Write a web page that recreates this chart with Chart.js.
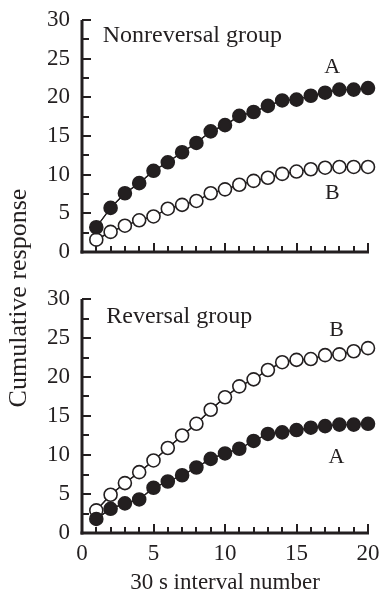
<!DOCTYPE html>
<html>
<head>
<meta charset="utf-8">
<script src="https://cdn.jsdelivr.net/npm/chart.js@4/dist/chart.umd.min.js"></script>
<style>
  body { margin: 0; background: #fff; overflow: hidden; }
  #wrap { position: relative; width: 382px; height: 594px; overflow: hidden; }
  canvas { position: absolute; left: 0; }
  #ytitle {
    position: absolute; left: -132px; top: 283px; width: 300px; height: 30px;
    line-height: 30px; text-align: center; transform: rotate(-90deg);
    font-family: 'Liberation Serif', serif; font-size: 26px; color: #231f20;
  }
</style>
</head>
<body>
<div id="wrap">
  <!-- joining lines under each chart, axes on a layer above it -->
  <canvas id="top_under" width="382" height="270" style="top:0;width:382px;height:270px"></canvas>
  <canvas id="bottom_under" width="382" height="324" style="top:270px;width:382px;height:324px"></canvas>
  <canvas id="top_chart" width="382" height="270" style="top:0;width:382px;height:270px"></canvas>
  <canvas id="bottom_chart" width="382" height="324" style="top:270px;width:382px;height:324px"></canvas>
  <canvas id="top_over" width="382" height="270" style="top:0;width:382px;height:270px"></canvas>
  <canvas id="bottom_over" width="382" height="324" style="top:270px;width:382px;height:324px"></canvas>
  <div id="ytitle">Cumulative response</div>
</div>
<script>
// data
const intervals = [1, 2, 3, 4, 5, 6, 7, 8, 9, 10, 11, 12, 13, 14, 15, 16, 17, 18, 19, 20];
const nonrevA = [3.2, 5.7, 7.6, 8.9, 10.5, 11.6, 12.9, 14.1, 15.6, 16.4, 17.6, 18.1, 18.9, 19.6, 19.7, 20.2, 20.6, 21.0, 21.0, 21.2];
const nonrevB = [1.6, 2.6, 3.4, 4.1, 4.6, 5.6, 6.1, 6.6, 7.6, 8.1, 8.7, 9.2, 9.6, 10.1, 10.4, 10.7, 10.9, 11.0, 11.0, 11.0];
const revA = [1.8, 3.1, 3.8, 4.3, 5.8, 6.6, 7.4, 8.4, 9.5, 10.2, 10.8, 11.8, 12.7, 12.9, 13.2, 13.5, 13.7, 13.9, 13.9, 14.0];
const revB = [2.9, 4.9, 6.4, 7.8, 9.3, 10.9, 12.5, 14.0, 15.8, 17.4, 18.8, 19.7, 20.9, 21.9, 22.2, 22.3, 22.8, 22.9, 23.3, 23.7];
const yTicks = [0, 5, 10, 15, 20, 25, 30];
const xTicks = [0, 5, 10, 15, 20];

const ink = '#231f20';
const serif = 'Liberation Serif';

function series(vals, filled) {
    return {
        data: intervals.map((x, i) => ({ x: x, y: vals[i] })),
        showLine: true,
        borderColor: ink,
        borderWidth: 1.2,
        tension: 0,
        pointRadius: 6.5,
        pointBorderWidth: 1.6,
        pointBorderColor: ink,
        pointBackgroundColor: filled ? ink : '#fff',
        clip: false
    };
}

// joining lines, from the library's point positions
function drawJoins(chart, c) {
    c.clearRect(0, 0, c.canvas.width, c.canvas.height);
    c.save();
    c.strokeStyle = ink;
    c.lineWidth = 1.2;
    chart.data.datasets.forEach((ds, i) => {
        const pts = chart.getDatasetMeta(i).data;
        c.beginPath();
        pts.forEach((p, j) => { if (j === 0) c.moveTo(p.x, p.y); else c.lineTo(p.x, p.y); });
        c.stroke();
    });
    c.restore();
}

// axis lines with ticks pointing into the plot
function drawAxes(chart, c) {
    const xs = chart.scales.x, ys = chart.scales.y;
    const x0 = Math.round(xs.getPixelForValue(0)), x1 = Math.round(xs.getPixelForValue(20));
    const y0 = Math.round(ys.getPixelForValue(0)), y1 = Math.round(ys.getPixelForValue(30));
    c.clearRect(0, 0, c.canvas.width, c.canvas.height);
    c.save();
    c.fillStyle = ink;
    c.fillRect(x0 - 1.5, y1, 3, y0 - y1 + 1.5);
    c.fillRect(x0 - 1.5, y0 - 1.5, x1 - x0 + 2.5, 3);
    for (let k = 1; k <= 12; k++) {
        const py = Math.round(ys.getPixelForValue(k * 2.5));
        c.fillRect(x0, py - 1, k % 2 === 0 ? 9 : 7, 2);
    }
    for (let k = 1; k <= 20; k++) {
        const px = Math.round(xs.getPixelForValue(k));
        const h = k % 5 === 0 ? 9 : 6;
        c.fillRect(px - 1, y0 - h, 2, h);
    }
    c.restore();
}

const overlay = {
    id: 'overlay',
    afterDraw(chart, args, opts) {
        try {
            drawJoins(chart, document.getElementById(opts.under).getContext('2d'));
            drawAxes(chart, document.getElementById(opts.over).getContext('2d'));
        } catch (e) { /* keep the chart even if a layer fails */ }
        const ctx = chart.ctx;
        const xs = chart.scales.x, ys = chart.scales.y;
        ctx.save();
        ctx.fillStyle = ink;
        ctx.textBaseline = 'alphabetic';
        opts.items.forEach(n => {
            ctx.font = n.size + 'px ' + serif;
            ctx.textAlign = n.align || 'left';
            ctx.fillText(n.text, xs.getPixelForValue(n.x), ys.getPixelForValue(n.y));
        });
        ctx.restore();
    }
};

function makeOptions(showX, xHeight, padTop, under, over, items) {
    return {
        responsive: false,
        devicePixelRatio: 1,
        animation: false,
        layout: { padding: { top: padTop, right: 14, left: 0, bottom: 0 } },
        plugins: {
            legend: { display: false },
            tooltip: { enabled: false },
            overlay: { under: under, over: over, items: items }
        },
        scales: {
            x: {
                type: 'linear',
                min: 0,
                max: 20,
                grid: { display: false, drawTicks: false },
                border: { display: false },
                afterBuildTicks: s => { s.ticks = xTicks.map(v => ({ value: v })); },
                afterFit: s => { s.height = xHeight; s.paddingLeft = 0; s.paddingRight = 0; },
                ticks: {
                    display: showX,
                    padding: 7,
                    color: ink,
                    maxRotation: 0,
                    font: { family: serif, size: 23 }
                },
                title: {
                    display: showX,
                    text: '30 s interval number',
                    color: ink,
                    padding: 0,
                    font: { family: serif, size: 23, lineHeight: 1.0 }
                }
            },
            y: {
                min: 0,
                max: 30,
                grid: { display: false, drawTicks: false },
                border: { display: false },
                afterBuildTicks: s => { s.ticks = yTicks.map(v => ({ value: v })); },
                afterFit: s => { s.width = 82; s.paddingTop = 0; s.paddingBottom = 0; },
                ticks: {
                    padding: 12,
                    color: ink,
                    font: { family: serif, size: 23 }
                }
            }
        }
    };
}

const top_chart = new Chart(document.getElementById('top_chart'), {
    type: 'line',
    data: { datasets: [series(nonrevA, true), series(nonrevB, false)] },
    options: makeOptions(false, 18, 20, 'top_under', 'top_over', [
        { text: 'Nonreversal group', x: 1.45, y: 27.2, size: 24 },
        { text: 'A', x: 17.5, y: 23.1, size: 22, align: 'center' },
        { text: 'B', x: 17.5, y: 6.8, size: 22, align: 'center' }
    ]),
    plugins: [overlay]
});

const bottom_chart = new Chart(document.getElementById('bottom_chart'), {
    type: 'line',
    data: { datasets: [series(revA, true), series(revB, false)] },
    options: makeOptions(true, 61, 29, 'bottom_under', 'bottom_over', [
        { text: 'Reversal group', x: 1.7, y: 26.9, size: 24 },
        { text: 'B', x: 17.8, y: 25.2, size: 22, align: 'center' },
        { text: 'A', x: 17.8, y: 9.0, size: 22, align: 'center' }
    ]),
    plugins: [overlay]
});
</script>
</body>
</html>
